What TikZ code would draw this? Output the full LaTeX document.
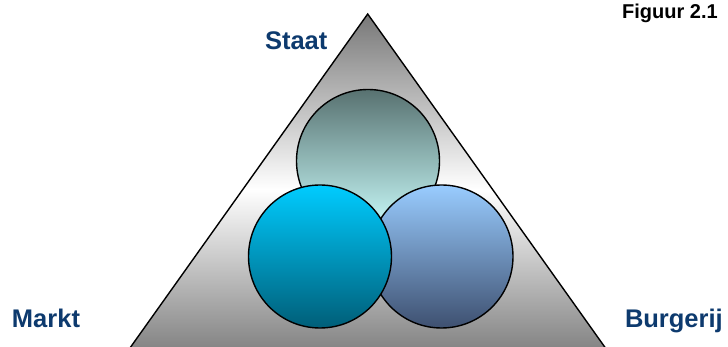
\documentclass[tikz,border=0pt]{standalone}
\usepackage{fontspec}
\setmainfont{Liberation Sans}
\definecolor{labelblue}{HTML}{0D3A6E}
\definecolor{wedgegray}{HTML}{787878}
\definecolor{statetop}{HTML}{587270}
\definecolor{statebot}{HTML}{CCFFFF}
\definecolor{markttop}{HTML}{00CCFF}
\definecolor{marktbot}{HTML}{005E78}
\definecolor{burgtop}{HTML}{99CCFF}
\definecolor{burgbot}{HTML}{3E5070}
\begin{document}
\begin{tikzpicture}[x=1pt,y=-1pt,
  ring/.style={circle, draw=black, line width=1.4pt, minimum size=143pt, inner sep=0pt},
  corner/.style={font=\bfseries\fontsize{25.5}{28}\selectfont, text=labelblue, anchor=base west, inner sep=0pt, outer sep=0pt}]
  \useasboundingbox (0,0) rectangle (728,347);
  \clip (0,0) rectangle (728,347);
  % the triangle, shaded grey - white - grey from apex to base
  \draw[line width=1.4pt, top color=wedgegray, bottom color=wedgegray, middle color=white]
    (367.7,14) -- (130.7-12.5,364.5) -- (604.7+12.5,364.5) -- cycle;
  % the three circles
  \node[ring, top color=statetop, bottom color=statebot] (staatc) at (368,161) {};
  \node[ring, top color=burgtop, bottom color=burgbot] (burgc) at (441.5,256.5) {};
  \node[ring, top color=markttop, bottom color=marktbot] (marktc) at (320,256.5) {};
  % labels
  \node[corner] (staat) at (265,50) {Staat};
  \node[corner] (markt) at (12,327) {Markt};
  \node[corner] (burg) at (625,327) {Burgerij};
  \node[anchor=base west, inner sep=0pt, font=\bfseries\fontsize{20}{22}\selectfont] (fig) at (622,18.3) {Figuur 2.1};
\end{tikzpicture}
\end{document}
